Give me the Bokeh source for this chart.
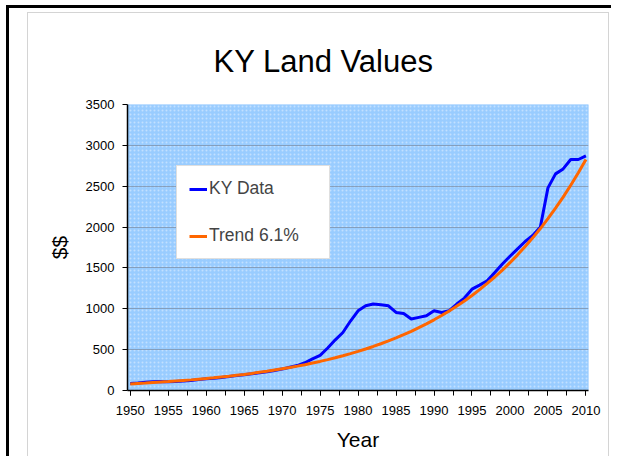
from bokeh.plotting import figure
from bokeh.models import BoxAnnotation, Range1d, Legend, SingleIntervalTicker
from bokeh.embed import file_html
from bokeh.resources import INLINE

years = list(range(1950, 2011))
ky_data = [85, 92, 100, 108, 110, 107, 110, 115, 122, 133,
           143, 150, 160, 170, 182, 193, 205, 218, 230, 246,
           262, 285, 305, 340, 387, 430, 520, 620, 710, 850,
           975, 1037, 1058, 1049, 1037, 955, 943, 875, 895, 915,
           976, 955, 976, 1058, 1131, 1240, 1290, 1343, 1445, 1548,
           1643, 1733, 1823, 1897, 2000, 2480, 2651, 2712, 2827, 2827,
           2870]
trend = [81, 86, 91, 97, 103, 109, 116, 123, 130, 138,
         146, 155, 165, 175, 186, 197, 209, 222, 235, 250,
         265, 281, 298, 316, 336, 356, 378, 401, 425, 451,
         479, 508, 539, 572, 607, 644, 683, 724, 769, 815,
         865, 918, 974, 1033, 1096, 1163, 1234, 1310, 1389, 1474,
         1564, 1660, 1761, 1868, 1982, 2103, 2231, 2367, 2512, 2665,
         2828]
series_names = ["KY Data", "Trend 6.1%"]
FONT = "Liberation Sans"

p = figure(width=611, height=456, output_backend="svg", toolbar_location=None,
           x_range=Range1d(1949.64, 2010.34), y_range=Range1d(0, 3500),
           title="KY Land Values",
           min_border_left=127, min_border_right=23, min_border_top=104, min_border_bottom=66)
# slide-style frame: black rule top/left, light grey chart-area box
p.styles = {
    "background": (
        "linear-gradient(#000,#000) 6px 5px / 3px 100% no-repeat, "
        "linear-gradient(#000,#000) 6px 5px / 100% 3px no-repeat, "
        "linear-gradient(#d4d4d4,#d4d4d4) 27px 12px / 1px 100% no-repeat, "
        "linear-gradient(#d4d4d4,#d4d4d4) 27px 12px / 582px 1px no-repeat, "
        "linear-gradient(#d4d4d4,#d4d4d4) 608px 12px / 1px 100% no-repeat, "
        "#ffffff"
    )
}
p.outline_line_color = None
p.background_fill_color = "#99CCFF"
p.border_fill_color = None

bg = BoxAnnotation(fill_color="#99CCFF", fill_alpha=1, line_color=None,
                   hatch_pattern="dot", hatch_color="white", hatch_alpha=0.4,
                   hatch_scale=4, level="image")
p.add_layout(bg)

p.title.text_font = FONT
p.title.text_font_size = "31px"
p.title.text_font_style = "normal"
p.title.text_color = "black"
p.title.align = "left"
p.title.offset = 86
p.title.standoff = 52

p.xgrid.grid_line_color = None
p.ygrid.grid_line_color = "#7a8aa0"
p.ygrid.grid_line_alpha = 0.7

p.yaxis.ticker = SingleIntervalTicker(interval=500, num_minor_ticks=0)
p.xaxis.ticker = SingleIntervalTicker(interval=5, num_minor_ticks=2)
for ax in (p.xaxis, p.yaxis):
    ax.axis_line_color = "black"
    ax.axis_line_width = 1.5
    ax.major_tick_line_color = "black"
    ax.major_tick_out = 5
    ax.major_tick_in = 0
    ax.major_label_text_font = FONT
    ax.major_label_text_font_size = "13px"
    ax.major_label_text_color = "black"
    ax.axis_label_text_font = FONT
    ax.axis_label_text_font_size = "21px"
    ax.axis_label_text_font_style = "normal"
    ax.axis_label_text_color = "black"
p.xaxis.minor_tick_line_color = "black"
p.xaxis.minor_tick_out = 5
p.xaxis.minor_tick_in = 0
p.yaxis.minor_tick_line_color = None
p.xaxis.axis_label = "Year"
p.yaxis.axis_label = "$$"
p.xaxis.major_label_standoff = 10
p.yaxis.major_label_standoff = 8
p.xaxis.axis_label_standoff = 10
p.yaxis.axis_label_standoff = 12

r1 = p.line(years, ky_data, line_color="#0000FF", line_width=3)
r2 = p.line(years, trend, line_color="#FF6600", line_width=3)

legend = Legend(items=[(series_names[0], [r1]), (series_names[1], [r2])],
                location=(49, 131), padding=12, spacing=26, margin=0,
                glyph_width=18, glyph_height=20, label_height=20,
                label_standoff=2, label_width=108,
                label_text_font=FONT, label_text_font_size="17.5px",
                border_line_color="#c0c0c0", border_line_width=1,
                background_fill_color="white", background_fill_alpha=1)
p.add_layout(legend)

open("out.html", "w").write(file_html(p, INLINE))
